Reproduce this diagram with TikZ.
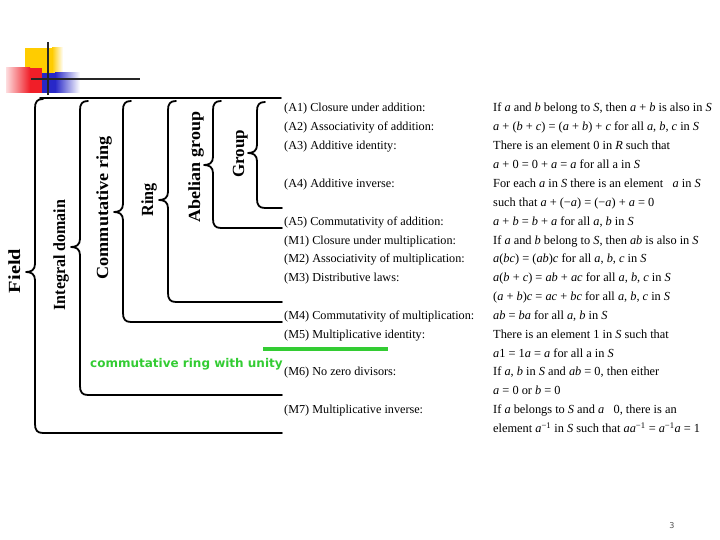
\documentclass[tikz,border=0pt]{standalone}
\usepackage{fontspec}
\setmainfont{Liberation Serif}
\newfontfamily\dejavu{DejaVu Sans}
\definecolor{decoyellow}{RGB}{255,204,0}
\definecolor{decored}{RGB}{240,30,40}
\definecolor{decoblue}{RGB}{40,40,200}
\definecolor{unitygreen}{RGB}{51,204,51}
\newcommand{\vi}[1]{\textit{#1}}
\newcommand{\bracepath}[4]{% x, ytop, ymid, ybot
  \draw[brk] (#1+8,#2) .. controls (#1+2,#2) and (#1,#2+3) .. (#1,#2+9)
    -- (#1,#3-8) .. controls (#1,#3-2) and (#1-4,#3) .. (#1-9,#3)
    .. controls (#1-4,#3) and (#1,#3+2) .. (#1,#3+8)
    -- (#1,#4-9) .. controls (#1,#4-3) and (#1+2,#4) .. (#1+8,#4) -- (282,#4);}
\tikzset{
  brk/.style={line width=1.8pt, line cap=round, line join=round},
  lab/.style={rotate=90, anchor=base, inner sep=0pt, font=\fontsize{17}{17}\selectfont\bfseries},
  ax/.style={anchor=base west, inner sep=0pt, font=\fontsize{12.2}{12}\selectfont},
  bx/.style={anchor=base west, inner sep=0pt, font=\fontsize{12.35}{12}\selectfont},
}
\begin{document}
\begin{tikzpicture}[x=1pt,y=-1pt]
\useasboundingbox (0,0) rectangle (720,540);
% decoration
\fill[decoyellow] (25,48) rectangle (52,85);
\shade[left color=decoyellow, right color=white] (52,48) rectangle (63,85);
\shade[left color=decored!15!white, right color=decored] (6,68) rectangle (30,93);
\fill[decored] (30,68) rectangle (42,93);
\fill[decoblue] (42,73) rectangle (55,93);
\shade[left color=decoblue, right color=white] (55,73) rectangle (80,93);
\draw[line width=1.3pt, black!85] (48,42) -- (48,95);
\draw[line width=1.3pt, black!85] (31,79) -- (140,79);
% top line and braces
\draw[brk] (40,98) -- (281,98);
\bracepath{35}{99}{272}{433}
\bracepath{80}{101}{247}{395}
\bracepath{123}{101}{212}{322}
\bracepath{168}{101}{200}{302}
\bracepath{213}{101}{165}{228}
\bracepath{257}{102}{153}{208}
% brace labels
\node[lab] (field) at (20,271) {\scalebox{1.2}[1]{Field}};
\node[lab] (intdom) at (65,255) {\scalebox{0.94}[1]{Integral domain}};
\node[lab] (commring) at (108,208) {\scalebox{1.07}[1]{Commutative ring}};
\node[lab] (ring) at (153,200) {\scalebox{0.95}[1]{Ring}};
\node[lab] (abgroup) at (200,167) {\scalebox{1.06}[1]{Abelian group}};
\node[lab] (group) at (244,154) {Group};
% left column
\node[ax] (a1) at (284,112.0) {(A1) Closure under addition:};
\node[ax] (a2) at (284,130.9) {(A2) Associativity of addition:};
\node[ax] (a3) at (284,149.7) {(A3) Additive identity:};
\node[ax] (a4) at (284,187.4) {(A4) Additive inverse:};
\node[ax] (a5) at (284,225.1) {(A5) Commutativity of addition:};
\node[ax] (m1) at (284,244.0) {(M1) Closure under multiplication:};
\node[ax] (m2) at (284,262.8) {(M2) Associativity of multiplication:};
\node[ax] (m3) at (284,281.7) {(M3) Distributive laws:};
\node[ax] (m4) at (284,319.4) {(M4) Commutativity of multiplication:};
\node[ax] (m5) at (284,338.2) {(M5) Multiplicative identity:};
\node[ax] (m6) at (284,375.9) {(M6) No zero divisors:};
\node[ax] (m7) at (284,413.6) {(M7) Multiplicative inverse:};
% right column
\node[bx] (r0) at (493,112.0) {If \vi{a} and \vi{b} belong to \vi{S}, then \vi{a} + \vi{b} is also in \vi{S}};
\node[bx] (r1) at (493,130.9) {\vi{a} + (\vi{b} + \vi{c}) = (\vi{a} + \vi{b}) + \vi{c} for all \vi{a}, \vi{b}, \vi{c} in \vi{S}};
\node[bx] (r2) at (493,149.7) {There is an element 0 in \vi{R} such that};
\node[bx] (r3) at (493,168.6) {\vi{a} + 0 = 0 + \vi{a} = \vi{a} for all a in \vi{S}};
\node[bx] (r4) at (493,187.4) {For each \vi{a} in \vi{S} there is an element \ \ \vi{a} in \vi{S}};
\node[bx] (r5) at (493,206.3) {such that \vi{a} + (−\vi{a}) = (−\vi{a}) + \vi{a} = 0};
\node[bx] (r6) at (493,225.1) {\vi{a} + \vi{b} = \vi{b} + \vi{a} for all \vi{a}, \vi{b} in \vi{S}};
\node[bx] (r7) at (493,244.0) {If \vi{a} and \vi{b} belong to \vi{S}, then \vi{ab} is also in \vi{S}};
\node[bx] (r8) at (493,262.8) {\vi{a}(\vi{bc}) = (\vi{ab})\vi{c} for all \vi{a}, \vi{b}, \vi{c} in \vi{S}};
\node[bx] (r9) at (493,281.7) {\vi{a}(\vi{b} + \vi{c}) = \vi{ab} + \vi{ac} for all \vi{a}, \vi{b}, \vi{c} in \vi{S}};
\node[bx] (r10) at (493,300.5) {(\vi{a} + \vi{b})\vi{c} = \vi{ac} + \vi{bc} for all \vi{a}, \vi{b}, \vi{c} in \vi{S}};
\node[bx] (r11) at (493,319.4) {\vi{ab} = \vi{ba} for all \vi{a}, \vi{b} in \vi{S}};
\node[bx] (r12) at (493,338.2) {There is an element 1 in \vi{S} such that};
\node[bx] (r13) at (493,357.1) {\vi{a}1 = 1\vi{a} = \vi{a} for all a in \vi{S}};
\node[bx] (r14) at (493,375.9) {If \vi{a}, \vi{b} in \vi{S} and \vi{ab} = 0, then either};
\node[bx] (r15) at (493,394.8) {\vi{a} = 0 or \vi{b} = 0};
\node[bx] (r16) at (493,413.6) {If \vi{a} belongs to \vi{S} and \vi{a} \ \ 0, there is an};
\node[bx] (r17) at (493,432.5) {element \vi{a}\textsuperscript{−1} in \vi{S} such that \vi{aa}\textsuperscript{−1} = \vi{a}\textsuperscript{−1}\vi{a} = 1};
% green annotation
\coordinate (gl) at (263,349);
\coordinate (gr) at (388,349);
\draw[unitygreen, line width=3.5pt] (gl) -- (gr);
\node[anchor=base west, inner sep=0pt, text=unitygreen, font=\dejavu\bfseries\fontsize{12}{12}\selectfont] (unity) at (90,367) {commutative ring with unity};
% page number
\node[anchor=base, inner sep=0pt, text=black!70, font=\dejavu\fontsize{8}{8}\selectfont] (pg) at (672,528) {3};
\end{tikzpicture}
\end{document}
